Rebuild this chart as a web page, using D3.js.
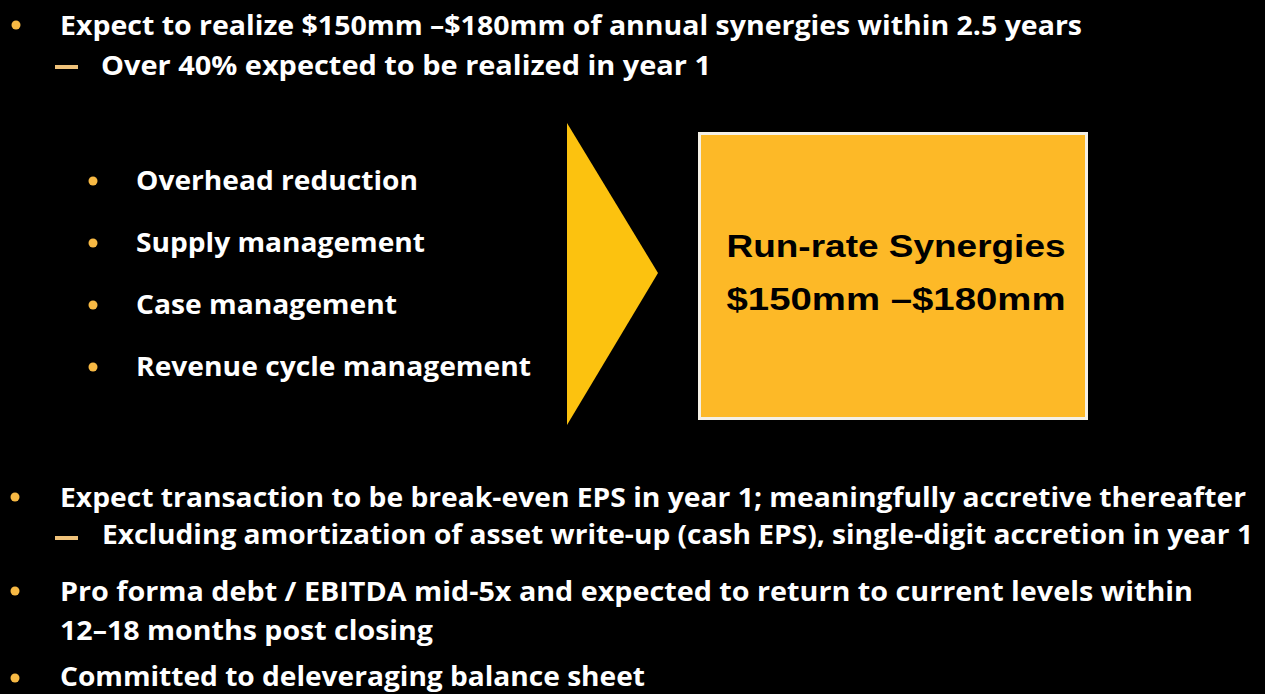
<!DOCTYPE html>
<html>
<head>
<meta charset="utf-8">
<script src="https://cdn.jsdelivr.net/npm/d3@7"></script>
<style>
  html, body { margin: 0; padding: 0; background: #000; }
  svg { display: block; }
</style>
</head>
<body>
<div class="slide"></div>
<script>
// slide content
const topBullet = ['Expect to realize $150mm \u2013$180mm of annual synergies within 2.5 years'];
const topSub = ['Over 40% expected to be realized in year 1'];
const synergyLevers = ['Overhead reduction', 'Supply management', 'Case management', 'Revenue cycle management'];
const boxLines = ['Run-rate Synergies', '$150mm \u2013$180mm'];
const bottomBullets = [
  'Expect transaction to be break-even EPS in year 1; meaningfully accretive thereafter',
  'Pro forma debt / EBITDA mid-5x and expected to return to current levels within',
  'Committed to deleveraging balance sheet'
];
const bottomSub = ['Excluding amortization of asset write-up (cash EPS), single-digit accretion in year 1'];
const wrapLine = ['12\u201318 months post closing'];

const width = 1265, height = 694;
const white = '#ffffff', dotColor = '#f7b944', dashColor = '#efc27a';
const font = '"Open Sans", "Lato", sans-serif';

const svg = d3.select('.slide')
  .append('svg')
    .attr('width', width)
    .attr('height', height);

svg.append('rect')
  .attr('width', width)
  .attr('height', height)
  .attr('fill', '#000');

function line(x, y, txt, len, size) {
  svg.append('text')
    .attr('x', x)
    .attr('y', y)
    .attr('fill', white)
    .attr('font-family', font)
    .attr('font-weight', 700)
    .attr('font-size', size || 26)
    .attr('textLength', len)
    .attr('lengthAdjust', 'spacingAndGlyphs')
    .text(txt);
}

function dot(x, y) {
  svg.append('circle')
    .attr('cx', x).attr('cy', y).attr('r', 4.5)
    .attr('fill', dotColor);
}

function dash(y) {
  svg.append('line')
    .attr('x1', 55).attr('x2', 78)
    .attr('y1', y).attr('y2', y)
    .attr('stroke', dashColor)
    .attr('stroke-width', 4);
}

// top block
dot(16, 25);
line(60, 35, topBullet[0], 1022);
dash(67);
line(101, 75, topSub[0], 610);

// synergy levers, spaced with a point scale
const leverY = d3.scalePoint()
  .domain(synergyLevers)
  .range([190, 376]);
const leverLen = [282, 289, 261, 395];
synergyLevers.forEach((d, i) => {
  dot(93, leverY(d) - 9);
  line(136, leverY(d), d, leverLen[i], 27);
});

// arrow
svg.append('path')
  .attr('d', d3.line()([[567, 123], [658, 273], [567, 425]]) + 'Z')
  .attr('fill', '#fcc20f');

// box
svg.append('rect')
  .attr('x', 699.5).attr('y', 133.5)
  .attr('width', 387).attr('height', 285)
  .attr('fill', '#fdb927')
  .attr('stroke', '#f4f0e6')
  .attr('stroke-width', 3);

const boxY = d3.scalePoint().domain(boxLines).range([257, 310]);
boxLines.forEach(d => {
  svg.append('text')
    .attr('x', 896)
    .attr('y', boxY(d))
    .attr('text-anchor', 'middle')
    .attr('fill', '#000')
    .attr('font-family', '"Liberation Sans", Arial, sans-serif')
    .attr('font-weight', 700)
    .attr('font-size', 32)
    .attr('textLength', 339)
    .attr('lengthAdjust', 'spacingAndGlyphs')
    .text(d);
});

// bottom block
dot(15, 497);
line(60, 507, bottomBullets[0], 1186);
dash(538);
line(102, 544, bottomSub[0], 1151);
dot(15, 591);
line(60, 601, bottomBullets[1], 1133);
line(60, 640, wrapLine[0], 373);
dot(15, 678);
line(60, 686, bottomBullets[2], 585);
</script>
</body>
</html>
